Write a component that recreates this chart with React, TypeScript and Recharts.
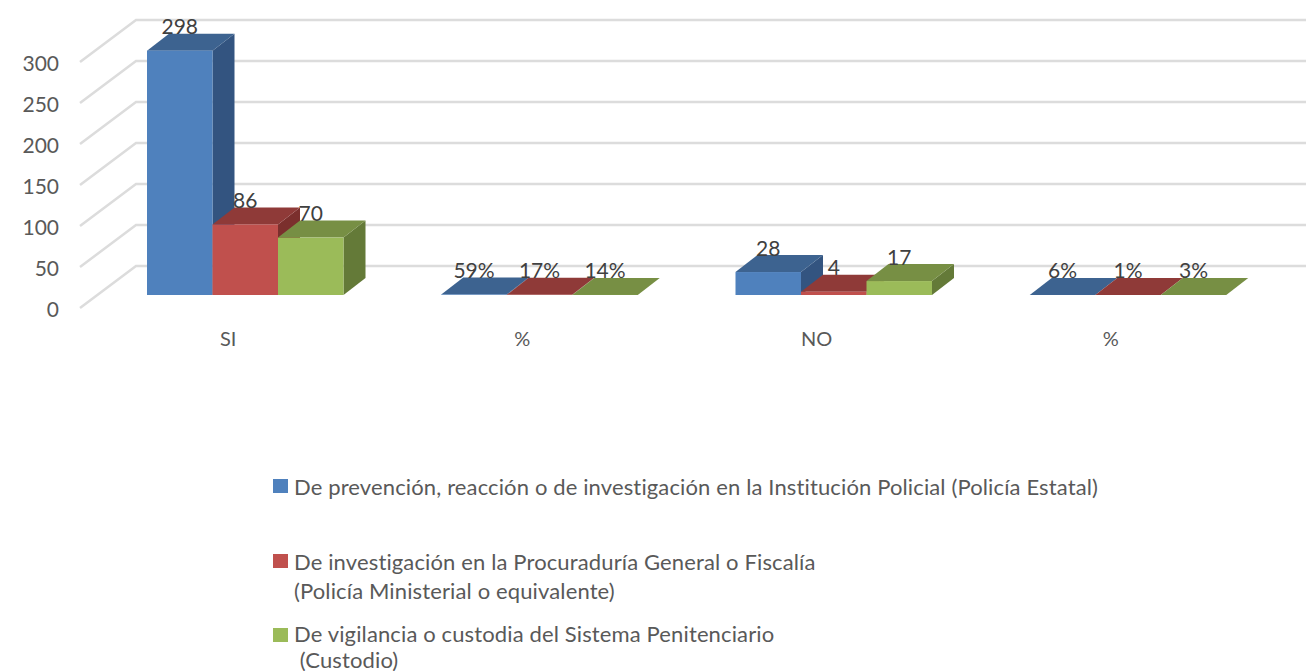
import { BarChart, Bar, XAxis, YAxis, CartesianGrid, Legend, LabelList } from "recharts";

const categories = ["SI", "%", "NO", "%"];
const prevencion = [298, 0.59, 28, 0.06];
const investigacion = [86, 0.17, 4, 0.01];
const vigilancia = [70, 0.14, 17, 0.03];
const yTicks = [0, 50, 100, 150, 200, 250, 300];

const seriesNames = [
  "De prevención, reacción o de investigación en la Institución Policial (Policía Estatal)",
  "De investigación en la Procuraduría General o Fiscalía\n(Policía Ministerial o equivalente)",
  "De vigilancia o custodia del Sistema Penitenciario\n (Custodio)",
];

const chartData = categories.map((category, i) => ({
  category,
  prevencion: prevencion[i],
  investigacion: investigacion[i],
  vigilancia: vigilancia[i],
}));

const FONT = "Lato, Carlito, sans-serif";
const DEPTH_X = 22;
const DEPTH_Y = 17;

// fake 3D box, same look as the excel bars
const box3d = (front: string, top: string, side: string) => (props: any) => {
  const { x, y, width, height } = props;
  const right = x + width;
  const bottom = y + height;
  return (
    <g>
      <polygon
        points={`${right},${y} ${right + DEPTH_X},${y - DEPTH_Y} ${right + DEPTH_X},${bottom - DEPTH_Y} ${right},${bottom}`}
        fill={side}
      />
      <polygon
        points={`${x},${y} ${x + DEPTH_X},${y - DEPTH_Y} ${right + DEPTH_X},${y - DEPTH_Y} ${right},${y}`}
        fill={top}
      />
      <rect x={x} y={y} width={width} height={height} fill={front} />
    </g>
  );
};

const formatValue = (value: number) => (value < 1 ? `${Math.round(value * 100)}%` : `${value}`);

const BarLabel = (props: any) => {
  const { x, y, width, value } = props;
  return (
    <text
      x={x + width / 2}
      y={y - DEPTH_Y - 8}
      textAnchor="middle"
      dominantBaseline="central"
      fontFamily={FONT}
      fontSize={21}
      fill="#404040"
    >
      {formatValue(value)}
    </text>
  );
};

// floor/wall lines: the wall sits behind the bars, the diagonal comes to the front
const WallLine = (props: any) => {
  const y = props.y1;
  return (
    <polyline
      key={props.key}
      points={`80,${y + 13} 136,${y - 29} 1306,${y - 29}`}
      fill="none"
      stroke="#DCDCDC"
      strokeWidth={2.5}
    />
  );
};

const YTick = (props: any) => (
  <text
    x={59}
    y={props.y + 13}
    textAnchor="end"
    dominantBaseline="central"
    fontFamily={FONT}
    fontSize={21}
    fill="#595959"
  >
    {props.payload.value}
  </text>
);

const XTick = (props: any) => (
  <text
    x={props.x - 17}
    y={338}
    textAnchor="middle"
    dominantBaseline="central"
    fontFamily={FONT}
    fontSize={20}
    fill="#595959"
  >
    {props.payload.value}
  </text>
);

const legendTops = [472, 547, 621];
const legendLineHeights = [29, 29, 26];

const LegendBlock = ({ payload }: any) => (
  <div style={{ position: "relative", height: 0, width: 1306 }}>
    {(payload || []).map((item: any, i: number) => (
      <div key={i} style={{ position: "absolute", left: 273, top: legendTops[i], whiteSpace: "pre" }}>
        <span
          style={{
            position: "absolute",
            left: 0,
            top: 7,
            width: 15,
            height: 14,
            background: item.color,
          }}
        />
        <div
          style={{
            marginLeft: 21,
            fontFamily: FONT,
            fontSize: 22,
            letterSpacing: 0.13,
            lineHeight: `${legendLineHeights[i]}px`,
            color: "#595959",
          }}
        >
          {item.value}
        </div>
      </div>
    ))}
  </div>
);

export default function App() {
  return (
    <div style={{ width: 1306, height: 671, overflow: "hidden" }}>
      <style>{`body{margin:0;overflow:hidden}`}</style>
      <BarChart
        width={1306}
        height={671}
        data={chartData}
        barSize={65.5}
        barGap={0}
        margin={{ top: 49, right: 31, bottom: 336, left: 40 }}
      >
        <CartesianGrid vertical={false} horizontal={WallLine} />
        <XAxis dataKey="category" height={40} axisLine={false} tickLine={false} interval={0} tick={XTick} />
        <YAxis width={58} domain={[0, 300]} ticks={yTicks} axisLine={false} tickLine={false} tick={YTick} />
        <Legend
          layout="horizontal"
          verticalAlign="middle"
          align="center"
          itemSorter={null}
          wrapperStyle={{ left: 0, top: 0, width: 1306, height: 0 }}
          content={LegendBlock}
        />
        <Bar
          dataKey="prevencion"
          name={seriesNames[0]}
          fill="#4F81BD"
          isAnimationActive={false}
          shape={box3d("#4F81BD", "#3D6390", "#335480")}
        >
          <LabelList dataKey="prevencion" content={BarLabel} />
        </Bar>
        <Bar
          dataKey="investigacion"
          name={seriesNames[1]}
          fill="#C0504D"
          isAnimationActive={false}
          shape={box3d("#C0504D", "#8F3A38", "#7B2F2D")}
        >
          <LabelList dataKey="investigacion" content={BarLabel} />
        </Bar>
        <Bar
          dataKey="vigilancia"
          name={seriesNames[2]}
          fill="#9BBB59"
          isAnimationActive={false}
          shape={box3d("#9BBB59", "#778F44", "#647A38")}
        >
          <LabelList dataKey="vigilancia" content={BarLabel} />
        </Bar>
      </BarChart>
    </div>
  );
}
